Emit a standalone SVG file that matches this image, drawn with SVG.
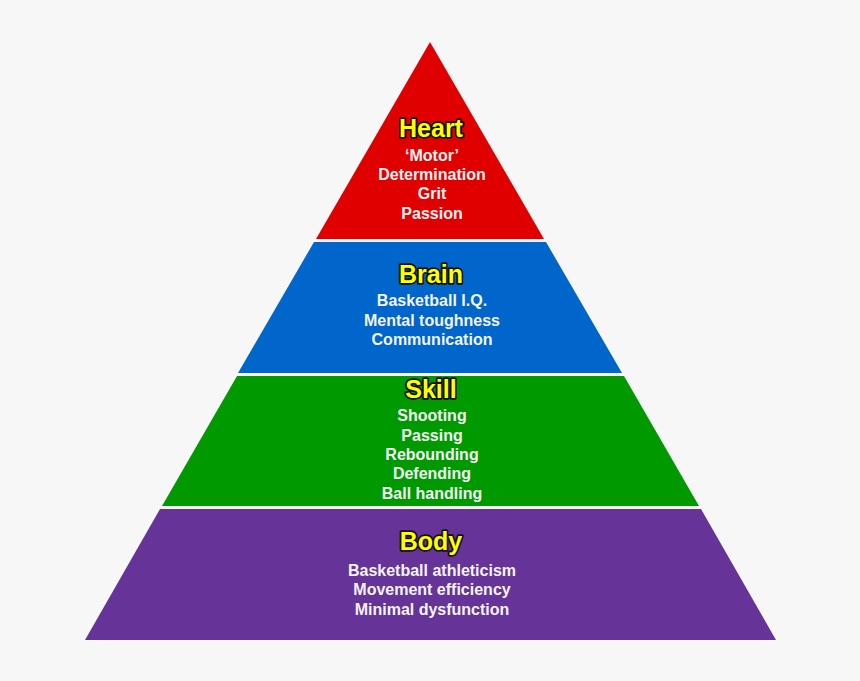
<svg xmlns="http://www.w3.org/2000/svg" width="860" height="681" viewBox="0 0 860 681">
<style>
.band{stroke:none}
.title{font-family:"Liberation Sans",Arial,sans-serif;font-weight:bold;font-size:25px;fill:#ffff00;stroke:#111;stroke-width:3.5px;stroke-linejoin:round;paint-order:stroke;text-anchor:middle}
.item{font-family:"Liberation Sans",Arial,sans-serif;font-weight:bold;font-size:16px;fill:#f4f4f4;text-anchor:middle}
</style>
<rect width="860" height="681" fill="#f7f7f7"/>
<g id="heart">
<polygon class="band" fill="#e00000" points="430,42 544,239 316,239"/>
<text class="title" x="431" y="137">Heart</text>
<text class="item" x="432" y="161">‘Motor’</text>
<text class="item" x="432" y="180">Determination</text>
<text class="item" x="432" y="199">Grit</text>
<text class="item" x="432" y="219">Passion</text>
</g>
<g id="brain">
<polygon class="band" fill="#0066cc" points="314,242 546,242 622,373 238,373"/>
<text class="title" x="431" y="283">Brain</text>
<text class="item" x="432" y="306">Basketball I.Q.</text>
<text class="item" x="432" y="326">Mental toughness</text>
<text class="item" x="432" y="345">Communication</text>
</g>
<g id="skill">
<polygon class="band" fill="#009900" points="237,376 624,376 699,506 162,506"/>
<text class="title" x="431" y="398">Skill</text>
<text class="item" x="432" y="421">Shooting</text>
<text class="item" x="432" y="441">Passing</text>
<text class="item" x="432" y="460">Rebounding</text>
<text class="item" x="432" y="479">Defending</text>
<text class="item" x="432" y="499">Ball handling</text>
</g>
<g id="body">
<polygon class="band" fill="#663399" points="160,509 701,509 776,640 85,640"/>
<text class="title" x="431" y="550">Body</text>
<text class="item" x="432" y="576">Basketball athleticism</text>
<text class="item" x="432" y="595">Movement efficiency</text>
<text class="item" x="432" y="615">Minimal dysfunction</text>
</g>
<g id="connectors"/>
</svg>
